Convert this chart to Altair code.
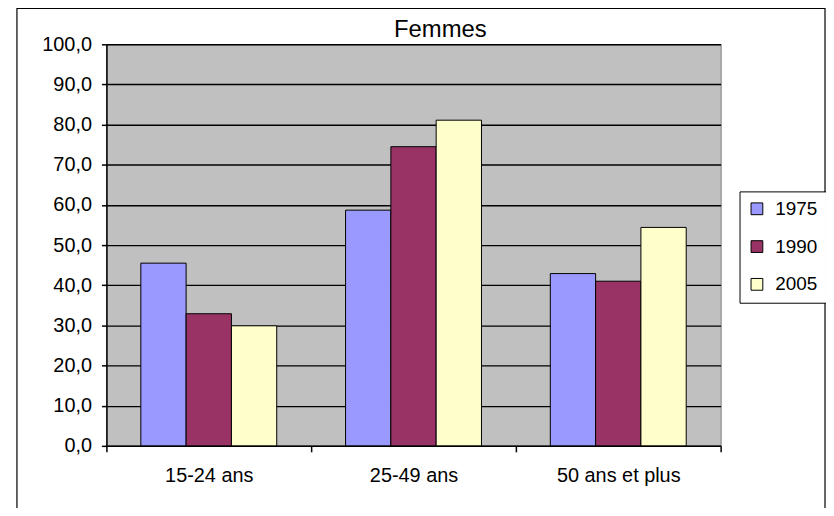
import altair as alt
import pandas as pd

categories = ["15-24 ans", "25-49 ans", "50 ans et plus"]
years = ["1975", "1990", "2005"]
v1975 = [45.5, 58.7, 42.9]
v1990 = [32.9, 74.5, 41.0]
v2005 = [29.9, 81.1, 54.4]
colors = ["#9999FF", "#993366", "#FFFFCC"]
title_text = "Femmes"

rows = []
for yr, vals in zip(years, [v1975, v1990, v2005]):
    for c, v in zip(categories, vals):
        rows.append({"cat": c, "year": yr, "value": v})
df = pd.DataFrame(rows)

FONT = "Liberation Sans"

bars = alt.Chart(df).mark_bar(stroke="black", strokeWidth=1).encode(
    x=alt.X("cat:N", sort=categories, title=None,
            scale=alt.Scale(paddingInner=0, paddingOuter=0),
            axis=alt.Axis(labelAngle=0, tickBand="extent", tickSize=6,
                          labelPadding=14, labelFontSize=20, labelFont=FONT,
                          labelColor="black", domainColor="black", tickColor="black",
                          domainWidth=1.5, tickWidth=1.5, grid=False)),
    xOffset=alt.XOffset("year:N", sort=years,
                        scale=alt.Scale(paddingInner=0, paddingOuter=0.76)),
    y=alt.Y("value:Q", title=None,
            scale=alt.Scale(domain=[0, 100], nice=False),
            axis=alt.Axis(values=list(range(0, 101, 10)), tickSize=5,
                          labelPadding=10, labelFontSize=20, labelFont=FONT,
                          labelColor="black", domainColor="black", tickColor="black",
                          domainWidth=1.5, tickWidth=1.5,
                          gridColor="black", gridWidth=1.4, gridOpacity=1,
                          labelExpr="replace(format(datum.value, '.1f'), '.', ',')")),
    color=alt.Color("year:N", sort=years,
                    scale=alt.Scale(domain=years, range=colors),
                    legend=alt.Legend(title=None, orient="none", legendX=637, legendY=148,
                                      symbolType="square", symbolSize=140,
                                      symbolStrokeColor="black", symbolStrokeWidth=1,
                                      labelFontSize=19, labelFont=FONT, labelColor="black",
                                      labelOffset=9, padding=8, rowPadding=18,
                                      strokeColor="black", fillColor="white")),
)

one = pd.DataFrame({"t": [title_text]})

frame = alt.Chart(one).mark_rect(
    fill="transparent", stroke="black", strokeWidth=1.2
).encode(
    x=alt.value(-90), x2=alt.value(723), y=alt.value(-36), y2=alt.value(480)
)

title = alt.Chart(one).mark_text(
    font=FONT, fontSize=24, color="black", align="center", baseline="alphabetic"
).encode(
    text="t:N", x=alt.value(336), y=alt.value(-7)
)

chart = alt.layer(bars, frame, title).properties(
    width=618, height=404,
    autosize=alt.AutoSizeParams(type="none"),
    padding={"left": 99, "top": 35, "right": 106, "bottom": 61},
).configure_view(
    fill="#C0C0C0", stroke="#808080", strokeWidth=1
)

chart.save("out.html", embed_options={"renderer": "svg", "actions": False})
